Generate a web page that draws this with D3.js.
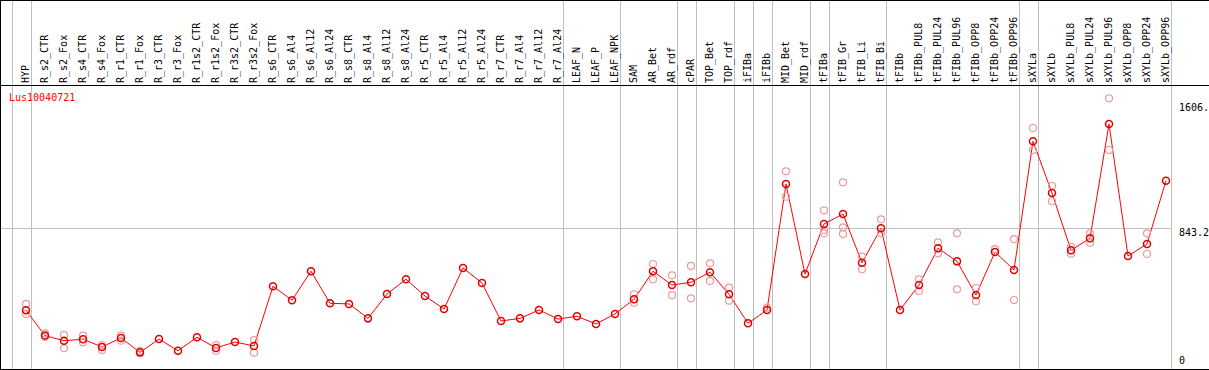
<!DOCTYPE html>
<html>
<head>
<meta charset="utf-8">
<script src="https://cdn.jsdelivr.net/npm/d3@7"></script>
<style>
  body { margin: 0; background: #fff; }
  svg { display: block; }
  text { font-family: "DejaVu Sans Mono", monospace; font-size: 10px; }
</style>
</head>
<body>
<div id="chart"></div>
<script>
var categories = ["HYP", "R_s2_CTR", "R_s2_Fox", "R_s4_CTR", "R_s4_Fox", "R_r1_CTR", "R_r1_Fox",
  "R_r3_CTR", "R_r3_Fox", "R_r1s2_CTR", "R_r1s2_Fox", "R_r3s2_CTR", "R_r3s2_Fox",
  "R_s6_CTR", "R_s6_Al4", "R_s6_Al12", "R_s6_Al24", "R_s8_CTR", "R_s8_Al4", "R_s8_Al12", "R_s8_Al24",
  "R_r5_CTR", "R_r5_Al4", "R_r5_Al12", "R_r5_Al24", "R_r7_CTR", "R_r7_Al4", "R_r7_Al12", "R_r7_Al24",
  "LEAF_N", "LEAF_P", "LEAF_NPK", "SAM", "AR_Bet", "AR_rdf", "cPAR", "TOP_Bet", "TOP_rdf",
  "iFIBa", "iFIBb", "MID_Bet", "MID_rdf", "tFIBa", "tFIB_Gr", "tFIB_Li", "tFIB_Bi", "tFIBb",
  "tFIBb_PUL8", "tFIBb_PUL24", "tFIBb_PUL96", "tFIBb_OPP8", "tFIBb_OPP24", "tFIBb_OPP96",
  "sXYLa", "sXYLb", "sXYLb_PUL8", "sXYLb_PUL24", "sXYLb_PUL96", "sXYLb_OPP8", "sXYLb_OPP24", "sXYLb_OPP96"];

// mean expression per sample
var means = [342, 188, 157, 166, 119, 174, 86, 167, 96, 178, 113, 149, 125,
  488, 404, 580, 385, 381, 293, 441, 531, 429, 350, 600, 508, 277, 293, 344, 289,
  306, 259, 320, 409, 580, 496, 513, 574, 440, 263, 344, 1111, 563,
  868, 928, 632, 841, 344, 496, 720, 640, 435, 697, 588,
  1371, 1056, 707, 781, 1476, 673, 746, 1131];

// individual replicates (only the ones that show apart from the mean)
var replicates = [[381, 320], [202, 180], [192, 111], [188, 147], [131, 101], [188, 157], [96, 80],
  [], [], [], [131, 96], [], [161, 84],
  [], [], [], [], [], [], [], [], [], [], [], [], [], [], [], [],
  [], [], [], [440, 388], [624, 531], [555, 434], [612, 415], [628, 521], [480, 401],
  [], [358], [1188, 1034], [],
  [951, 831, 811], [1121, 847, 807], [669, 592], [896, 811], [],
  [531, 460], [756, 689], [811, 470], [478, 397], [714], [776, 405],
  [1452, 1318], [1099, 1006], [729, 687], [811, 754], [1633, 1318], [], [811, 685], []];

var groupStarts = ["HYP", "R_s2_CTR", "LEAF_N", "SAM", "cPAR", "TOP_Bet", "iFIBa", "iFIBb",
  "MID_Bet", "tFIBa", "tFIB_Gr", "tFIBb", "sXYLa", "sXYLb"];
var tickValues = [1606, 843.2, 0];
var tickLabels = ["1606.", "843.2", "0"];
var geneName = "Lus10040721";

var width = 1209, height = 370;
var headerBottom = 85, plotBottom = 369;

var svg = d3.select("#chart").append("svg")
    .attr("width", width)
    .attr("height", height);

var x = d3.scalePoint()
    .domain(categories)
    .range([26, 1166]);
var step = x.step();

var y = d3.scaleLinear()
    .domain([0, 1606])
    .range([366.5, 102.7]);

function px(v) { return Math.round(v) + 0.5; }

// vertical separators between sample groups
var sepX = groupStarts.map(function(c) { return x(c) - 14.5; });
sepX.push(x(categories[categories.length - 1]) + step - 14.5);

svg.append("g")
    .selectAll("line")
    .data(sepX)
  .enter().append("line")
    .attr("x1", function(d) { return px(d); })
    .attr("x2", function(d) { return px(d); })
    .attr("y1", 0)
    .attr("y2", plotBottom)
    .attr("stroke", "#c0c0c0")
    .attr("shape-rendering", "crispEdges");

// horizontal reference line
svg.append("line")
    .attr("x1", 0)
    .attr("x2", px(sepX[sepX.length - 1]))
    .attr("y1", px(y(843.2)))
    .attr("y2", px(y(843.2)))
    .attr("stroke", "#c0c0c0")
    .attr("shape-rendering", "crispEdges");

// frame
var frame = svg.append("g")
    .attr("stroke", "#000")
    .attr("shape-rendering", "crispEdges");
frame.append("line").attr("x1", 0).attr("x2", width).attr("y1", 0.5).attr("y2", 0.5);
frame.append("line").attr("x1", 0).attr("x2", width).attr("y1", headerBottom + 0.5).attr("y2", headerBottom + 0.5);
frame.append("line").attr("x1", 0).attr("x2", width).attr("y1", plotBottom + 0.5).attr("y2", plotBottom + 0.5);
frame.append("line").attr("x1", 0.5).attr("x2", 0.5).attr("y1", 0).attr("y2", plotBottom);

// rotated sample labels
svg.append("g")
    .selectAll("text")
    .data(categories)
  .enter().append("text")
    .attr("transform", function(d) { return "translate(" + (x(d) + 2.5) + "," + 83 + ") rotate(-90)"; })
    .attr("fill", "#000")
    .text(function(d) { return d; });

// gene name
svg.append("text")
    .attr("x", 9)
    .attr("y", 100.5)
    .attr("fill", "#ff0000")
    .text(geneName);

// right axis
var axis = svg.append("g")
    .attr("transform", "translate(1178,0)")
    .call(d3.axisRight(y)
      .tickValues(tickValues)
      .tickSize(0)
      .tickPadding(1)
      .tickFormat(function(d, i) { return tickLabels[i]; }));
axis.select(".domain").remove();
axis.selectAll("text")
    .attr("font-family", "DejaVu Sans Mono, monospace")
    .attr("font-size", 10)
    .attr("fill", "#000")
    .attr("dy", function(d) { return d === 0 ? "-0.35em" : "0.75em"; });

// mean line
var line = d3.line()
    .x(function(d, i) { return x(categories[i]); })
    .y(function(d) { return y(d); });

svg.append("path")
    .datum(means)
    .attr("fill", "none")
    .attr("stroke", "#ff0000")
    .attr("stroke-width", 1)
    .attr("d", line);

// replicate points
var reps = [];
replicates.forEach(function(r, i) {
  r.forEach(function(v) { reps.push({cat: categories[i], value: v}); });
});

svg.append("g")
    .selectAll("circle")
    .data(reps)
  .enter().append("circle")
    .attr("cx", function(d) { return x(d.cat); })
    .attr("cy", function(d) { return y(d.value); })
    .attr("r", 3.5)
    .attr("fill", "none")
    .attr("stroke", "#ee9a9a")
    .attr("stroke-width", 1.2);

// mean points
svg.append("g")
    .selectAll("circle")
    .data(means)
  .enter().append("circle")
    .attr("cx", function(d, i) { return x(categories[i]); })
    .attr("cy", function(d) { return y(d); })
    .attr("r", 3.5)
    .attr("fill", "none")
    .attr("stroke", "#e00000")
    .attr("stroke-width", 1.5);
</script>
</body>
</html>
